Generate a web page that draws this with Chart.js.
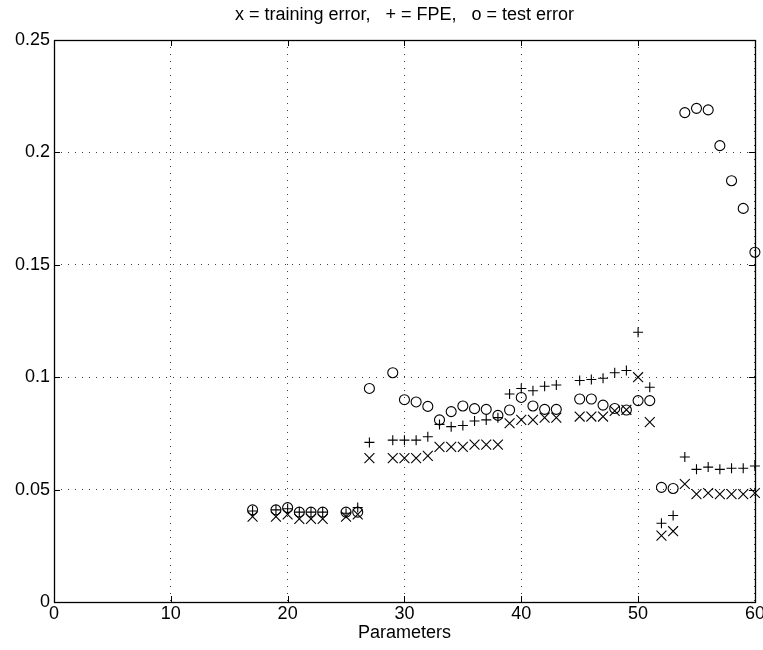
<!DOCTYPE html>
<html>
<head>
<meta charset="utf-8">
<title>Training error, FPE and test error</title>
<script src="https://cdn.jsdelivr.net/npm/chart.js@4/dist/chart.umd.min.js"></script>
<style>
  html, body { margin: 0; padding: 0; background: #fff; }
  canvas { display: block; }
</style>
</head>
<body>
<canvas id="c" width="763" height="650"></canvas>
<script>
// Number of model parameters for each fitted network
const params = [17, 19, 20, 21, 22, 23, 25, 26, 27, 29, 30, 31, 32, 33, 34, 35, 36, 37, 38,
                39, 40, 41, 42, 43, 45, 46, 47, 48, 49, 50, 51, 52, 53, 54, 55, 56, 57, 58, 59, 60];

// x = training error
const trainingError = [0.038, 0.038, 0.039, 0.037, 0.037, 0.037, 0.038, 0.039,
                       0.064, 0.064, 0.064, 0.064, 0.065, 0.069, 0.069, 0.069, 0.070, 0.070, 0.070,
                       0.0795, 0.081, 0.081, 0.082, 0.082,
                       0.0825, 0.0825, 0.0825, 0.085, 0.0855, 0.100, 0.080,
                       0.0295, 0.0315, 0.0525, 0.048, 0.0485, 0.048, 0.048, 0.048, 0.0485];

// + = final prediction error estimate
const fpe = [0.0405, 0.041, 0.0415, 0.040, 0.040, 0.040, 0.0395, 0.042,
             0.071, 0.072, 0.072, 0.072, 0.0735, 0.079, 0.078, 0.0785, 0.0805, 0.081, 0.082,
             0.0925, 0.095, 0.094, 0.096, 0.0965,
             0.0985, 0.099, 0.0995, 0.102, 0.103, 0.120, 0.0955,
             0.035, 0.0385, 0.0645, 0.059, 0.060, 0.059, 0.0595, 0.0595, 0.0605];

// o = test error
const testError = [0.041, 0.041, 0.042, 0.040, 0.040, 0.040, 0.040, 0.040,
                   0.095, 0.102, 0.090, 0.089, 0.087, 0.081, 0.0847, 0.0872, 0.086, 0.0857, 0.083,
                   0.0854, 0.091, 0.0872, 0.0857, 0.0857,
                   0.0903, 0.0903, 0.0876, 0.0861, 0.0854, 0.0896, 0.0896,
                   0.051, 0.0505, 0.2177, 0.2196, 0.2189, 0.203, 0.1874, 0.1751, 0.1556];

const xTicks = [0, 10, 20, 30, 40, 50, 60];
const yTicks = [0, 0.05, 0.1, 0.15, 0.2, 0.25];

const titleText = 'x = training error,   + = FPE,   o = test error';
const xTitle = 'Parameters';

const toPoints = vals => params.map((p, i) => ({ x: p, y: vals[i] }));

Chart.defaults.font.family = "'Liberation Sans', Arial, Helvetica, sans-serif";
Chart.defaults.font.size = 18;
Chart.defaults.color = '#000';

// Boxed axes with short inward tick marks on all four sides
const boxPlugin = {
  id: 'box',
  afterDatasetsDraw(chart) {
    const { ctx, chartArea: a, scales } = chart;
    const len = 6;
    ctx.save();
    ctx.strokeStyle = '#000';
    ctx.lineWidth = 1;
    ctx.setLineDash([]);
    ctx.beginPath();
    xTicks.forEach(v => {
      const px = Math.round(scales.x.getPixelForValue(v)) + 0.5;
      ctx.moveTo(px, a.bottom); ctx.lineTo(px, a.bottom - len);
      ctx.moveTo(px, a.top); ctx.lineTo(px, a.top + len);
    });
    yTicks.forEach(v => {
      const py = Math.round(scales.y.getPixelForValue(v)) + 0.5;
      ctx.moveTo(a.left, py); ctx.lineTo(a.left + len, py);
      ctx.moveTo(a.right, py); ctx.lineTo(a.right - len, py);
    });
    ctx.stroke();
    ctx.lineWidth = 1.3;
    ctx.strokeRect(Math.round(a.left) + 0.5, Math.round(a.top) + 0.5,
                   Math.round(a.right - a.left), Math.round(a.bottom - a.top));
    ctx.restore();
  }
};

const marker = (label, vals, style, radius) => ({
  label,
  data: toPoints(vals),
  pointStyle: style,
  pointRadius: radius,
  pointHoverRadius: radius,
  pointBorderWidth: 1.1,
  pointBackgroundColor: 'rgba(0,0,0,0)',
  pointBorderColor: '#000',
  borderColor: '#000',
  showLine: false,
  clip: false
});

new Chart(document.getElementById('c'), {
  type: 'scatter',
  data: {
    datasets: [
      marker('training error', trainingError, 'crossRot', 7),
      marker('FPE', fpe, 'cross', 5),
      marker('test error', testError, 'circle', 5)
    ]
  },
  options: {
    responsive: false,
    animation: false,
    devicePixelRatio: 1,
    layout: { padding: { left: 0, right: 7, top: 0, bottom: 0 } },
    plugins: {
      legend: { display: false },
      tooltip: { enabled: false },
      title: {
        display: true,
        text: titleText,
        fullSize: false,
        color: '#000',
        font: { size: 18, weight: 'normal' },
        padding: { top: 4, bottom: 14.4 }
      }
    },
    scales: {
      x: {
        type: 'linear',
        min: 0, max: 60,
        afterBuildTicks(s) { s.ticks = xTicks.map(v => ({ value: v })); },
        ticks: { padding: 1, maxRotation: 0, autoSkip: false, callback: v => String(v) },
        grid: { color: 'rgba(0,0,0,0.75)', lineWidth: 1, drawTicks: false },
        border: { display: false, dash: [1, 6] },
        title: { display: true, text: xTitle, font: { size: 18 }, padding: { top: 0, bottom: 6 } },
        afterFit(s) { s.height = 48; s.paddingLeft = 0; s.paddingRight = 0; }
      },
      y: {
        type: 'linear',
        min: 0, max: 0.25,
        afterBuildTicks(s) { s.ticks = yTicks.map(v => ({ value: v })); },
        ticks: { padding: 4, callback: v => String(+v.toFixed(2)) },
        grid: { color: 'rgba(0,0,0,0.75)', lineWidth: 1, drawTicks: false },
        border: { display: false, dash: [1, 6] },
        afterFit(s) { s.width = 54; s.paddingTop = 0; s.paddingBottom = 0; }
      }
    }
  },
  plugins: [boxPlugin]
});
</script>
</body>
</html>
